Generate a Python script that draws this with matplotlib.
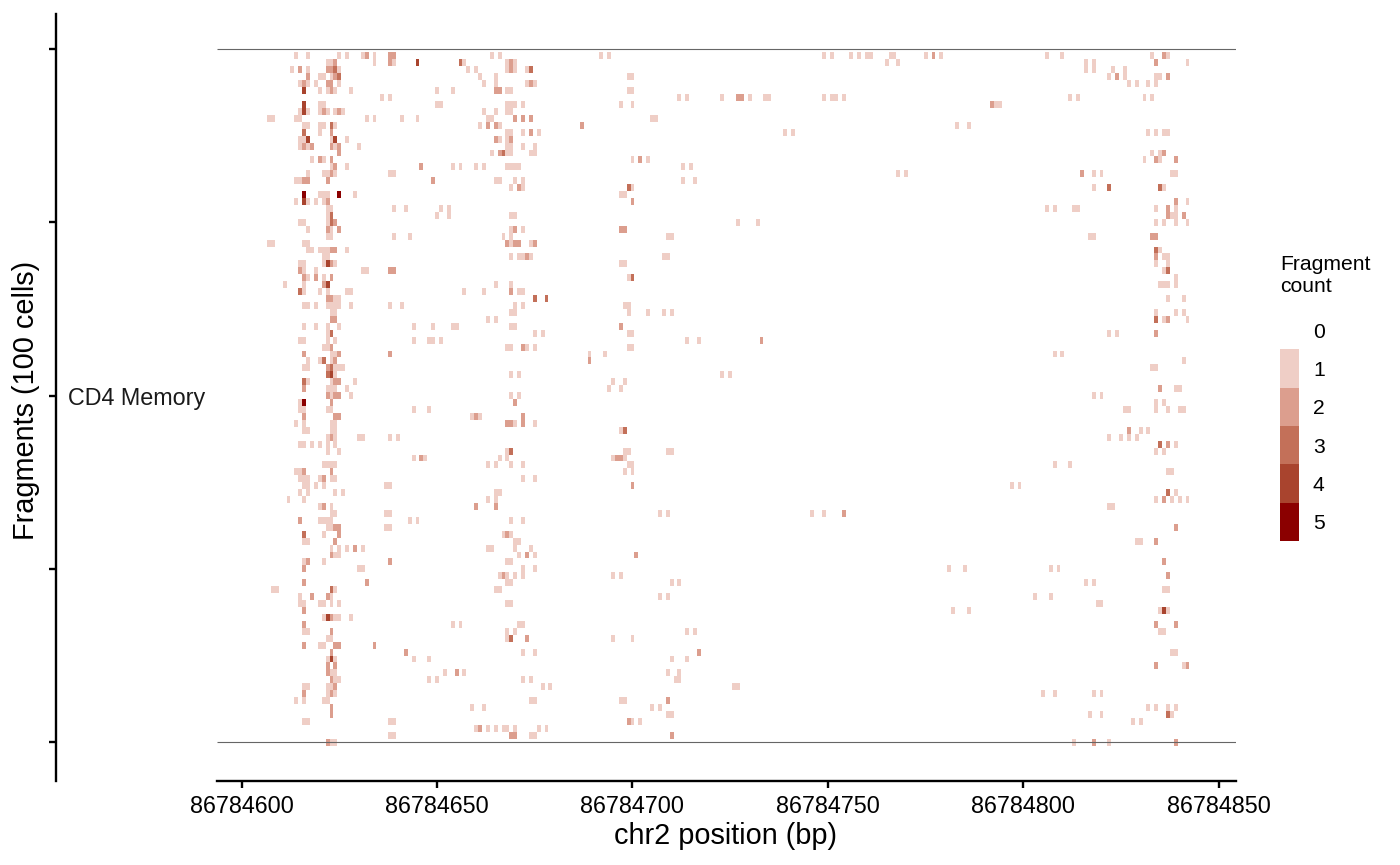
import numpy as np
import matplotlib
matplotlib.use('Agg')
import matplotlib.pyplot as plt
from matplotlib.colors import ListedColormap, BoundaryNorm

plt.rcParams['font.family'] = ['Liberation Sans', 'DejaVu Sans']

x_start = 86784600
x_ticks = [86784600, 86784650, 86784700, 86784750, 86784800, 86784850]
y_ticks = [0, 25, 50, 75, 100]
group_label = 'CD4 Memory'
legend_levels = [0, 1, 2, 3, 4, 5]
level_colors = ['#FFFFFF', '#EFCEC6', '#DC9E8E', '#C37059', '#A9442E', '#8B0000']

# row number -> bp offsets from x_start, one table per fragment count
count_1 = {
    1: [14, 17, 25, 27, 31, 34, 64, 66, 92, 94, 149, 151, 156, 158, 160, 161, 166, 167, 175, 179, 206, 210, 233, 237],
    2: [22, 23, 34, 39, 57, 68, 70, 165, 168, 216, 218, 242],
    3: [13, 17, 25, 58, 60, 68, 70, 73, 216, 218, 223, 226],
    4: [20, 21, 23, 61, 65, 99, 100, 222, 226, 234, 235],
    5: [15, 17, 19, 25, 62, 65, 73, 75, 227, 229, 232, 234],
    6: [20, 22, 24, 28, 50, 54, 68, 69, 99, 100],
    7: [36, 38, 112, 114, 123, 130, 134, 135, 149, 151, 152, 154, 212, 214, 231, 233],
    8: [20, 21, 50, 51, 68, 69, 70, 72, 97, 100, 193, 194],
    9: [15, 17, 20, 22, 24, 26, 62, 65, 68, 69],
    10: [7, 8, 14, 15, 32, 34, 41, 45, 63, 64, 105, 106],
    11: [16, 17, 20, 21, 24, 61, 66, 183, 186],
    12: [20, 68, 69, 72, 76, 139, 141, 232, 234, 236, 237],
    13: [15, 16, 23, 27, 66, 68],
    14: [15, 17, 24, 30, 68, 69, 72, 75],
    15: [64, 68, 69, 74, 75, 233, 235],
    16: [18, 21, 100, 104, 231, 235],
    17: [23, 27, 54, 56, 60, 62, 68, 69, 70, 71, 113, 115],
    18: [17, 21, 22, 24, 38, 39, 168, 170, 218, 220, 238, 239],
    19: [14, 15, 65, 66, 70, 72, 113, 116],
    20: [69, 72, 100, 218, 236],
    21: [20, 21, 22, 29, 97, 98],
    22: [14, 17, 19, 21, 242],
    23: [22, 23, 39, 42, 51, 53, 206, 208, 213, 214, 234, 239],
    24: [22, 50, 53, 69, 70, 238, 239],
    25: [15, 16, 22, 127, 132, 234, 236, 239, 242],
    26: [17, 23, 69, 72],
    27: [22, 23, 39, 43, 67, 69, 109, 110, 217, 218],
    28: [7, 8, 16, 17, 69, 74],
    29: [17, 18, 20, 21, 22, 27, 235],
    30: [21, 22, 69, 71, 72, 74, 108, 109, 236, 237],
    31: [15, 16, 21, 24, 97, 98, 234, 237],
    32: [16, 19, 31, 32, 236],
    33: [17, 21, 99, 239],
    34: [11, 16, 65, 69, 235, 236, 237, 239],
    35: [16, 20, 22, 27, 28, 57, 62, 71, 72],
    36: [24, 25, 237, 241],
    37: [16, 17, 19, 22, 23, 24, 25, 28, 38, 41, 70, 72, 98, 99],
    38: [23, 24, 69, 70, 99, 104, 108, 110, 234, 239, 241],
    39: [63, 65, 236, 242],
    40: [16, 19, 22, 25, 44, 49, 54, 55, 69, 70],
    41: [22, 75, 77, 99, 100, 222, 224],
    42: [15, 16, 22, 24, 44, 48, 49, 51, 114, 117],
    43: [21, 22, 68, 69, 73, 75, 99, 100],
    44: [23, 24, 89, 93, 208, 210],
    45: [17, 20, 23, 241],
    46: [16, 17, 24, 25, 26, 233, 234],
    47: [24, 69, 71, 123, 125],
    48: [17, 23, 29, 95, 98],
    49: [22, 23, 24, 27, 94, 97, 239, 240],
    50: [23, 28, 69, 71, 218, 220],
    51: [15, 234, 236],
    52: [15, 16, 22, 23, 44, 48, 226, 227, 234, 237, 240, 241],
    53: [59, 61],
    54: [14, 16, 23, 24, 70, 75],
    55: [16, 17, 23, 24, 97, 230, 232],
    56: [22, 24, 30, 31, 38, 40, 222, 225, 227, 229],
    57: [15, 16, 18, 20, 22, 24, 239],
    58: [22, 25, 68, 98, 99, 109, 110, 234, 236],
    59: [44, 47, 66, 68, 95, 98],
    60: [21, 22, 23, 24, 63, 65, 69, 72, 99, 100, 208, 212],
    61: [14, 15, 98, 100, 237, 238],
    62: [15, 16, 17, 20, 23, 24, 72, 75],
    63: [16, 17, 19, 21, 37, 38, 197, 199],
    64: [15, 17, 24, 26, 65, 66, 239],
    65: [12, 16, 63, 65, 234, 238, 240, 242],
    66: [20, 23, 222, 223],
    67: [23, 24, 37, 38, 107, 109, 146, 149],
    68: [20, 21, 22, 23, 43, 45, 69, 72],
    69: [22, 23, 37, 38],
    70: [21, 67, 69],
    71: [16, 17, 70, 71, 229, 230],
    72: [23, 25, 27, 31, 63, 64, 70, 74],
    73: [24, 25, 71, 75],
    74: [16, 21, 68, 69],
    75: [30, 31, 72, 75, 181, 185, 207, 209],
    76: [66, 68, 70, 72, 95, 97],
    77: [68, 69, 110, 112, 216, 218],
    78: [8, 9, 24, 65, 66, 236, 237],
    79: [15, 23, 107, 109, 203, 207],
    80: [15, 16, 20, 21, 23, 25, 68, 69, 219, 220],
    81: [182, 186, 235, 237],
    82: [21, 24, 25, 28],
    83: [54, 56, 71, 72],
    84: [16, 17, 68, 70, 114, 116, 235, 236],
    85: [22, 23, 68, 95, 100],
    86: [20, 21],
    87: [72, 75, 238, 239],
    88: [22, 24, 44, 48, 110, 114],
    89: [241],
    90: [23, 24, 52, 57, 109, 112],
    91: [24, 25, 48, 50, 72, 74, 111, 112],
    92: [16, 17, 22, 23, 77, 79, 126, 127],
    93: [22, 24, 205, 208, 218, 220],
    94: [14, 16, 21, 22, 74, 75, 97, 98],
    95: [59, 62, 105, 107, 232, 234, 237, 239],
    96: [109, 110, 217, 220, 238],
    97: [16, 17, 38, 39, 100, 102, 228, 230],
    98: [60, 63, 65, 67, 68, 70, 76, 78],
    99: [38, 39, 74, 75],
    100: [23, 24, 213, 222],
}
count_2 = {
    1: [32, 38, 39, 177, 236], 2: [24, 38, 69, 234], 3: [15, 22, 23, 69], 4: [17, 24, 224, 237],
    5: [16, 22, 23, 74], 6: [23, 65, 66], 7: [127, 128], 8: [192], 9: [21, 25], 10: [70, 72, 74],
    11: [63, 65, 87], 12: [23, 74], 13: [65, 69], 14: [16, 18, 23, 25], 15: [25, 66, 236],
    16: [20, 23, 102, 234, 239], 17: [24, 46], 18: [23, 215], 19: [16, 17, 22, 49], 20: [71],
    22: [22, 100, 239], 23: [237], 24: [237, 241], 25: [24], 26: [22, 25, 70, 97, 98],
    27: [233, 234], 28: [68, 70, 71, 75], 29: [23, 24], 30: [73, 234], 31: [23],
    32: [15, 38, 39], 33: [16, 19, 23], 34: [21], 35: [69], 36: [22, 23], 39: [23, 24, 237],
    40: [97], 41: [234], 42: [133], 43: [23, 72], 44: [16, 25, 38], 45: [24, 89], 46: [22],
    48: [24, 25], 49: [16, 235], 50: [22, 24, 25], 51: [23, 70], 53: [16, 24, 25, 60, 72],
    54: [68, 69, 72], 55: [227], 56: [23], 57: [237], 59: [46, 96, 97], 61: [16, 23],
    62: [21], 63: [100], 65: [236], 66: [21, 60, 65], 67: [154], 68: [15], 69: [24, 25, 239],
    70: [25, 68], 71: [24, 234], 72: [29], 73: [23, 73, 101], 74: [17, 38, 236], 75: [16],
    76: [67, 237], 77: [16, 32], 79: [18, 22], 81: [16], 82: [23], 83: [16, 234, 239],
    84: [23], 85: [73], 86: [16, 24, 25, 34], 87: [23, 42, 117], 89: [22, 24, 234, 242],
    90: [22, 55], 91: [23], 92: [24], 93: [16, 23], 94: [109], 95: [23], 96: [23],
    97: [99], 98: [61], 99: [69, 70, 110], 100: [22, 218, 239],
}
count_3 = {
    2: [56], 3: [24, 74], 4: [25], 11: [23], 12: [16], 15: [67], 20: [99, 222, 235], 24: [23],
    25: [23], 29: [234], 32: [237], 33: [100], 35: [15], 36: [75, 78], 39: [234], 41: [23],
    45: [21], 46: [23], 47: [22], 48: [16], 55: [98], 57: [235], 58: [69], 64: [237],
    70: [16], 78: [23], 85: [69], 96: [237],
}
count_4 = {
    2: [45], 6: [16], 8: [16], 9: [16], 13: [17, 24], 22: [16], 31: [22], 34: [22], 47: [23],
    81: [236], 82: [22], 88: [23],
}
count_5 = {21: [16, 25], 51: [16]}

counts = np.zeros((101, 256))
for level, table in zip([1, 2, 3, 4, 5], [count_1, count_2, count_3, count_4, count_5]):
    for row, offsets in table.items():
        for off in offsets:
            counts[row, off + 1] = level

W, H = 1400, 865
fig = plt.figure(figsize=(W / 100, H / 100), dpi=100)
ax = fig.add_axes([217 / W, 1 - 781 / H, (1236 - 217) / W, (781 - 14) / H])

cmap = ListedColormap(level_colors)
norm = BoundaryNorm(np.arange(-0.5, 6.5), cmap.N)
x_edges = x_start + np.arange(-1.5, 255.0)
y_edges = np.arange(-0.5, 101.0)
ax.pcolormesh(x_edges, y_edges, counts, cmap=cmap, norm=norm, antialiased=False, linewidth=0)
ax.hlines([0, 100], x_start - 6.3, x_start + 254.4, color='#666666', linewidth=0.8, zorder=3)

ax.set_xlim(x_start - 6.3, x_start + 254.4)
ax.set_ylim(105.6, -5.05)
ax.set_xticks(x_ticks)
ax.set_xticklabels([str(v) for v in x_ticks], fontsize=16.8)
ax.set_yticks(y_ticks)
ax.set_yticklabels([])
ax.tick_params(width=1.7, length=5, color='black', pad=5)

for s in ['top', 'right']:
    ax.spines[s].set_visible(False)
ax.spines['left'].set_position(('outward', 161 * 0.72))
ax.spines['left'].set_linewidth(1.7)
ax.spines['bottom'].set_linewidth(1.7)

fig.text(205 / W, 1 - 398 / H, group_label, ha='right', va='center', fontsize=16.8, color='#1a1a1a')
fig.text(26 / W, 1 - 400 / H, 'Fragments (100 cells)', rotation=90, ha='center', va='center', fontsize=20.8)
fig.text(725.5 / W, 1 - 836 / H, 'chr2 position (bp)', ha='center', va='center', fontsize=20.8)

# legend
lax = fig.add_axes([1280 / W, 1 - 541 / H, 19 / W, (541 - 311) / H])
lax.pcolormesh([0, 1], np.arange(-0.5, 6.0), np.array(legend_levels).reshape(-1, 1),
               cmap=cmap, norm=norm, antialiased=False, linewidth=0)
lax.set_ylim(5.5, -0.5)
lax.set_xticks([])
lax.yaxis.tick_right()
lax.set_yticks(legend_levels)
lax.set_yticklabels([str(v) for v in legend_levels], fontsize=15.2)
lax.tick_params(axis='y', length=0, pad=10)
for s in lax.spines.values():
    s.set_visible(False)
fig.text(1280 / W, 1 - 275.5 / H, 'Fragment\ncount', ha='left', va='center', fontsize=15.2, linespacing=1.22)

fig.savefig('out.png', dpi=100)
